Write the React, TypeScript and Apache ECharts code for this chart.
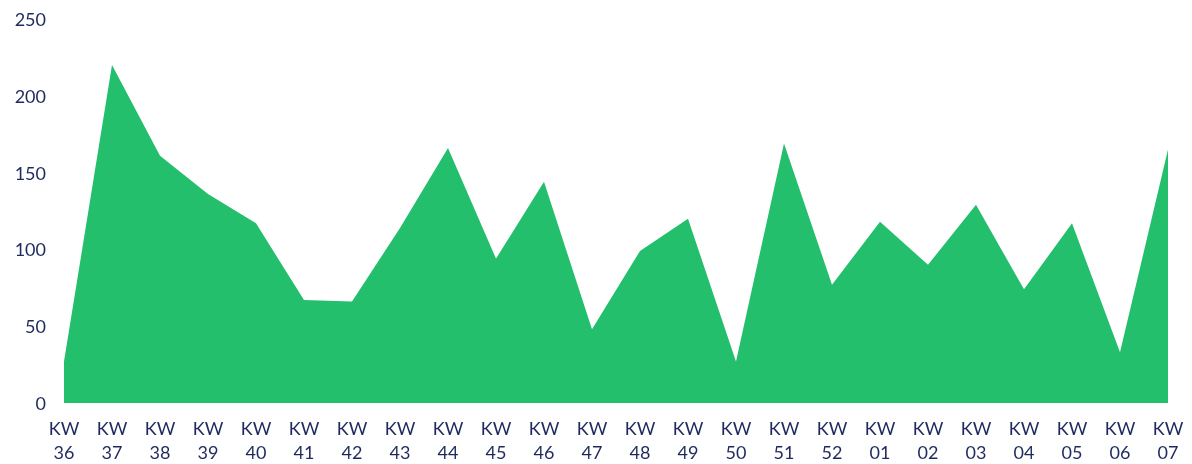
import React, { useEffect, useRef } from "react";
import * as echarts from "echarts";

const weeks = ["36","37","38","39","40","41","42","43","44","45","46","47","48","49","50","51","52","01","02","03","04","05","06","07"];
const categories = weeks.map((w) => "KW\n" + w);
const values = [27, 220, 161, 136, 117, 67, 66, 114, 166, 94, 144, 48, 99, 120, 27, 169, 77, 118, 90, 129, 74, 117, 33, 165];
const yMin = 0;
const yMax = 250;
const yInterval = 50;

export default function App() {
  const ref = useRef<HTMLDivElement>(null);
  useEffect(() => {
    if (!ref.current) return;
    const chart = echarts.init(ref.current, undefined, { renderer: "svg" });
    const textColor = "#1e2a5e";
    chart.setOption({
      animation: false,
      grid: { left: 64, right: 24, top: 19, bottom: 61 },
      xAxis: {
        type: "category",
        data: categories,
        boundaryGap: false,
        axisLine: { show: false },
        axisTick: { show: false },
        splitLine: { show: false },
        axisLabel: {
          color: textColor,
          fontFamily: "Lato",
          fontSize: 18,
          lineHeight: 24,
          margin: 13,
          interval: 0,
        },
      },
      yAxis: {
        type: "value",
        min: yMin,
        max: yMax,
        interval: yInterval,
        axisLine: { show: false },
        axisTick: { show: false },
        splitLine: { show: false },
        axisLabel: {
          color: textColor,
          fontFamily: "Lato",
          fontSize: 18,
          margin: 18,
        },
      },
      series: [
        {
          type: "line",
          data: values,
          symbol: "none",
          lineStyle: { width: 0 },
          areaStyle: { color: "#24bf6c", opacity: 1 },
        },
      ],
    });
    return () => chart.dispose();
  }, []);
  return (
    <div
      ref={ref}
      style={{ position: "fixed", left: 0, top: 0, width: 1192, height: 464 }}
    />
  );
}
